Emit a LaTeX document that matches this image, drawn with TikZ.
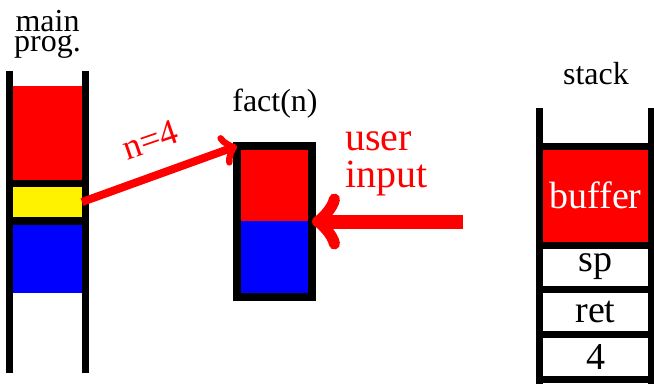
\documentclass[tikz,border=0pt]{standalone}
\usepackage{fontspec}
\setmainfont{Liberation Serif}
\usetikzlibrary{arrows.meta}
\definecolor{memRed}{RGB}{255,0,0}
\definecolor{memBlue}{RGB}{0,0,255}
\definecolor{memYellow}{RGB}{255,242,0}

\begin{document}
\begin{tikzpicture}[x=1pt, y=-1pt,
  heading/.style={font=\fontsize{32}{32}\selectfont, inner sep=0pt, anchor=base},
  block/.style={inner sep=0pt, outer sep=0pt, minimum width=69pt},
  cell/.style={inner sep=0pt, outer sep=0pt, minimum width=105pt, minimum height=38pt, font=\fontsize{38}{38}\selectfont},
  wall/.style={line width=7pt},
  ptr/.style={draw=memRed, line width=8pt, -{Classical TikZ Rightarrow[length=16pt, width=32pt, round]}},
]
  \useasboundingbox (0,0) rectangle (654,384);

  \node[block, fill=memRed, minimum height=94pt] (mainTop) at (47.5,133) {};
  \node[block, fill=memYellow, minimum height=30pt] (mainArg) at (47.5,202) {};
  \node[block, fill=memBlue, minimum height=68pt] (mainLocal) at (47.5,259) {};
  \draw[wall] (9.5,71) -- (9.5,373);
  \draw[wall] (85.5,71) -- (85.5,373);
  \draw[wall] (6,183.5) -- (89,183.5);
  \draw[wall, line width=8pt] (6,221) -- (89,221);
  \node[heading, align=center, font=\fontsize{32}{20}\selectfont] (mainLbl) at (47.5,51) {main\\prog.};

  \node[block, fill=memRed, minimum width=68pt, minimum height=71pt] (factTop) at (275,185.5) {};
  \node[block, fill=memBlue, minimum width=68pt, minimum height=72pt] (factBot) at (275,257) {};
  \node[draw, line width=8pt, inner sep=0pt, outer sep=0pt, minimum width=75pt, minimum height=151pt] (fact) at (274.5,221.5) {};
  \node[heading] (factLbl) at (275,111) {fact(n)};

  \node[cell, fill=memRed, text=white, minimum height=93pt] (buffer) at (595.5,195.5) {buffer};
  \node[cell] (sp) at (595.5,267) {sp};
  \node[cell] (ret) at (595.5,312) {ret};
  \node[cell] (arg) at (595.5,357) {4};
  \draw[wall] (539.5,108) -- (539.5,384);
  \draw[wall] (651.5,108) -- (651.5,384);
  \foreach \y in {146,245,289.5,334.5,379.5}
    \draw[wall] (536,\y) -- (655,\y);
  \node[heading] (stackLbl) at (596,84) {stack};

  \draw[ptr] (mainArg.east) -- (fact.north west);
  \node[heading, anchor=center, text=memRed, rotate=19, font=\fontsize{36}{36}\selectfont] (argLbl) at (150,140) {n=4};

  \coordinate (inSrc) at (463,221.5);
  \draw[ptr, line width=14pt, -{Classical TikZ Rightarrow[length=28pt, width=56pt, round]}] (inSrc) -- (fact.east);
  \node[heading, text=memRed, align=left, anchor=base west, font=\fontsize{40}{37}\selectfont] (inLbl) at (345,187) {user\\input};
\end{tikzpicture}
\end{document}
